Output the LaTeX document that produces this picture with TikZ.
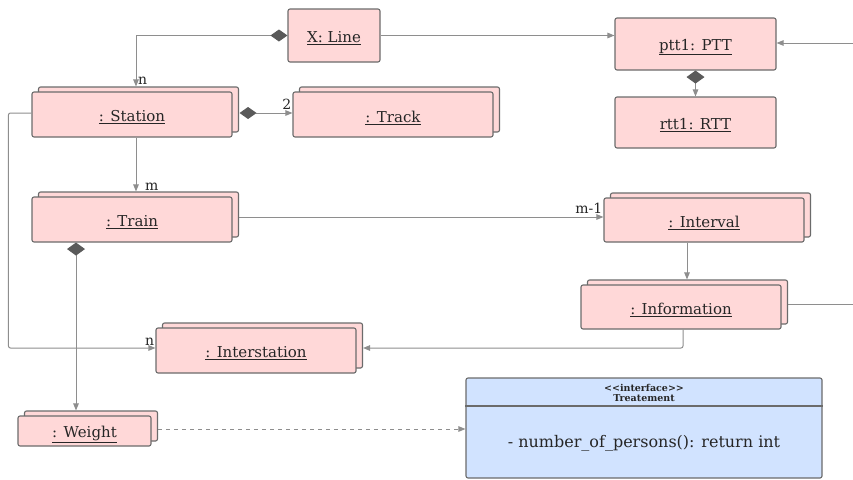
\documentclass[tikz,border=0pt]{standalone}
\usepackage{fontspec}
\setmainfont{DejaVu Serif}
\usetikzlibrary{arrows.meta,shadows,calc}
\definecolor{pinkfill}{HTML}{FFD8D8}
\definecolor{boxline}{HTML}{6B6B6B}
\definecolor{connc}{HTML}{8E8E8E}
\definecolor{diac}{HTML}{5A5A5A}
\definecolor{bluefill}{HTML}{D1E3FF}
\definecolor{txt}{HTML}{262626}
\newcommand\objlabel[1]{\raisebox{-3pt}[\height][\depth]{\underline{#1}}}
\tikzset{
  obj/.style={draw=boxline, fill=pinkfill, line width=1.1pt, rounded corners=2pt,
    inner sep=0pt, text=txt, font=\fontsize{15}{17}\selectfont},
  multi/.style={obj, copy shadow={shadow xshift=6.5pt, shadow yshift=5pt,
    draw=boxline, fill=pinkfill, line width=1.1pt}},
  conn/.style={draw=connc, line width=1pt, -{Triangle[length=7pt,width=5.5pt]}},
  hdia/.style={{Diamond[length=17pt,width=12pt,fill=diac,color=diac]}-{Triangle[length=7pt,width=5.5pt]}},
  vdia/.style={{Diamond[length=13pt,width=18pt,fill=diac,color=diac]}-{Triangle[length=7pt,width=5.5pt]}},
  mult/.style={text=txt, font=\fontsize{14}{16}\selectfont, inner sep=1pt},
}
\begin{document}
\begin{tikzpicture}[x=1pt,y=-1pt]
\useasboundingbox (0,0) rectangle (853,479);
% nodes
\node[obj, minimum width=92, minimum height=53] (xline) at (334,35.5) {\objlabel{X: Line}};
\node[obj, minimum width=161, minimum height=52] (ptt) at (695.5,44) {\objlabel{ptt1: PTT}};
\node[obj, minimum width=161, minimum height=51] (rtt) at (695.5,122.5) {\objlabel{rtt1: RTT}};
\node[multi, minimum width=200, minimum height=45] (station) at (132,114.5) {\objlabel{: Station}};
\node[multi, minimum width=200, minimum height=45] (track) at (393,114.5) {\objlabel{: Track}};
\node[multi, minimum width=200, minimum height=45] (train) at (132,219.5) {\objlabel{: Train}};
\node[multi, minimum width=200, minimum height=44] (interval) at (704,220) {\objlabel{: Interval}};
\node[multi, minimum width=200, minimum height=44] (information) at (681,307) {\objlabel{: Information}};
\node[multi, minimum width=200, minimum height=45] (interstation) at (256,350.5) {\objlabel{: Interstation}};
\node[multi, minimum width=133, minimum height=30] (weight) at (84.5,431) {\objlabel{: Weight}};
\node[obj, fill=bluefill, minimum width=356, minimum height=100] (treat) at (644,428) {};
\draw[draw=boxline, line width=1.1pt] (treat.west |- 0,406) -- (treat.east |- 0,406);
\node[text=txt, font=\bfseries\fontsize{9.5}{11}\selectfont, align=center, inner sep=0pt] (treathead) at (644,392.5) {{<}{<}interface{>}{>}\\[-1pt]Treatement};
\node[text=txt, font=\fontsize{16}{18}\selectfont, inner sep=0pt] (treatbody) at (644,443) {- number\_of\_persons(): return int};
% free ends
\coordinate (rightA) at (853,304);
\coordinate (rightB) at (853,43);
% connectors
\draw[conn, hdia] (xline.west) -| ($(station.north)+(4,-5)$);
\node[mult, anchor=south west] (ln1) at ($(station.north)+(5,-6)$) {n};
\draw[conn] (xline.east) -- ($(ptt.west)+(0,-8.5)$);
\draw[conn] (rightB) -- (rightB -| ptt.east);
\draw[conn, vdia] (ptt.south) -- (rtt.north);
\draw[conn, hdia] ($(station.east)+(7,-1.5)$) -- ($(track.west)+(0,-1.5)$);
\node[mult, anchor=south east] (l2) at ($(track.west)+(0,-4)$) {2};
\draw[conn] ($(station.south)+(4,0)$) -- ($(train.north)+(4,-5)$);
\node[mult, anchor=south west] (lm) at ($(train.north)+(12,-5)$) {m};
\draw[conn] ($(train.east)+(6.5,-2.5)$) -- ($(interval.west)+(0,-3)$);
\node[mult, anchor=south east] (lm1) at ($(interval.west)+(0,-5)$) {m-1};
\draw[conn] ($(interval.south)+(-17,0)$) -- ($(information.north)+(6,-5)$);
\draw[conn, -] ($(information.east)+(6.5,-3)$) -- (rightA);
\draw[conn, rounded corners=2pt] ($(information.south)+(2,0)$) |- ($(interstation.east)+(6.5,-2.5)$);
\draw[conn, rounded corners=2pt] ($(station.west)+(0,-1.5)$) -- ++(-23,0) |- ($(interstation.west)+(0,-2.5)$);
\node[mult, anchor=south east] (ln2) at ($(interstation.west)+(0,-4)$) {n};
\draw[conn, vdia] ($(train.south)+(-56,0)$) -- ($(weight.north)+(-8.5,-5)$);
\draw[conn, dashed, dash pattern=on 4pt off 4pt] ($(weight.east)+(6.5,-2)$) -- ($(treat.west)+(0,1)$);
\end{tikzpicture}
\end{document}
